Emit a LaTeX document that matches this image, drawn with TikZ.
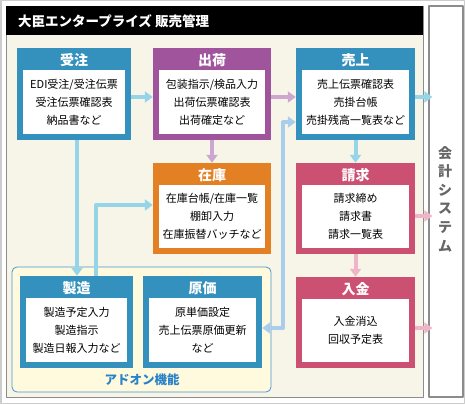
\documentclass[tikz,border=0pt]{standalone}
\usepackage{fontspec}
\setmainfont{Noto Sans CJK JP}
\usetikzlibrary{arrows.meta}
\definecolor{cblue}{RGB}{52,144,188}
\definecolor{cpurple}{RGB}{160,84,156}
\definecolor{corange}{RGB}{228,128,36}
\definecolor{cpink}{RGB}{204,80,114}
\definecolor{ablue}{RGB}{150,212,232}
\definecolor{ablue2}{RGB}{170,205,238}
\definecolor{apurple}{RGB}{206,166,210}
\definecolor{apink}{RGB}{240,180,200}
\definecolor{panel}{RGB}{247,245,232}
\definecolor{addonfill}{RGB}{255,249,222}
\definecolor{addonline}{RGB}{70,150,210}
\definecolor{addontext}{RGB}{40,130,200}
\begin{document}
\begin{tikzpicture}[x=1pt,y=-1pt,line join=round,
  mod/.style={inner sep=0,minimum height=92},
  ttl/.style={text=white,font=\fontsize{14}{14}\selectfont\bfseries,inner sep=0},
  body/.style={fill=white,inner sep=0,anchor=south,minimum height=64,align=center,
    font=\fontsize{11}{18}\selectfont},
  flow/.style={line width=4pt,-{Triangle[width=11pt,length=8pt]}}]
	\useasboundingbox (0,0) rectangle (465,404);
	%khung ngoai
	\draw[black!20,line width=1.5pt] (0.75,0.75) rectangle (464.25,403.25);
	\draw[black!45,fill=panel,line width=0.8pt] (6,6) rectangle (423,397);
	\fill[black] (6,6) rectangle (423,35);
	\node[anchor=west,text=white,font=\fontsize{13.5}{14}\selectfont\bfseries,inner sep=0] (title) at (18,21) {大臣エンタープライズ 販売管理};
	%会計システム
	\node[draw=black!45,fill=white,line width=1.2pt,minimum width=34,minimum height=391,inner sep=0] (kaikei) at (446,201.5) {};
	\node[text=black!60,font=\fontsize{14}{18.6}\selectfont\bfseries,align=center,inner sep=0] (kaikeit) at (445,199) {会\\計\\シ\\ス\\テ\\ム};
	%アドオン機能
	\node[draw=addonline,fill=addonfill,line width=0.8pt,rounded corners=5pt,minimum width=259,minimum height=125,inner sep=0] (addon) at (141.5,329.5) {};
	\node[text=addontext,font=\fontsize{12.5}{13}\selectfont\bfseries,inner sep=0] (addont) at (142,380) {アドオン機能};
	%受注
	\node[mod,fill=cblue,minimum width=114] (juchu) at (74,94) {};
	\node[ttl] at ([yshift=-12]juchu.north) {受注};
	\node[body,minimum width=102] (juchub) at ([yshift=6]juchu.south) {EDI受注/受注伝票\\受注伝票確認表\\納品書など};
	%出荷
	\node[mod,fill=cpurple,minimum width=118] (shukka) at (212,94) {};
	\node[ttl] at ([yshift=-12]shukka.north) {出荷};
	\node[body,minimum width=106] (shukkab) at ([yshift=6]shukka.south) {包装指示/検品入力\\出荷伝票確認表\\出荷確定など};
	%売上
	\node[mod,fill=cblue,minimum width=119] (uriage) at (355.5,94) {};
	\node[ttl] at ([yshift=-12]uriage.north) {売上};
	\node[body,minimum width=107] (uriageb) at ([yshift=6]uriage.south) {売上伝票確認表\\売掛台帳\\売掛残高一覧表など};
	%在庫
	\node[mod,fill=corange,minimum width=118,minimum height=91] (zaiko) at (212,208.5) {};
	\node[ttl] at ([yshift=-12]zaiko.north) {在庫};
	\node[body,minimum width=106,minimum height=63] (zaikob) at ([yshift=6]zaiko.south) {在庫台帳/在庫一覧\\棚卸入力\\在庫振替バッチなど};
	%請求
	\node[mod,fill=cpink,minimum width=119,minimum height=91] (seikyu) at (355.5,208.5) {};
	\node[ttl] at ([yshift=-12]seikyu.north) {請求};
	\node[body,minimum width=107,minimum height=63] (seikyub) at ([yshift=6]seikyu.south) {請求締め\\請求書\\請求一覧表};
	%入金
	\node[mod,fill=cpink,minimum width=119,minimum height=91] (nyukin) at (355.5,322.5) {};
	\node[ttl] at ([yshift=-12]nyukin.north) {入金};
	\node[body,minimum width=107,minimum height=63] (nyukinb) at ([yshift=6]nyukin.south) {入金消込\\回収予定表};
	%製造
	\node[mod,fill=cblue,minimum width=113] (seizo) at (76.5,322) {};
	\node[ttl] at ([yshift=-12]seizo.north) {製造};
	\node[body,minimum width=101] (seizob) at ([yshift=6]seizo.south) {製造予定入力\\製造指示\\製造日報入力など};
	%原価
	\node[mod,fill=cblue,minimum width=119] (genka) at (202.5,322) {};
	\node[ttl] at ([yshift=-12]genka.north) {原価};
	\node[body,minimum width=107] (genkab) at ([yshift=6]genka.south) {原単価設定\\売上伝票原価更新\\など};
	%mui ten
	\coordinate (via) at (283,0);
	\draw[flow,ablue] ([yshift=-3]juchu.east) -- ([yshift=-3]shukka.west);
	\draw[flow,apurple] ([yshift=-3]shukka.east) -- ([yshift=-3]uriage.west);
	\draw[flow,apurple] (shukka.south) -- (zaiko.north);
	\draw[flow,ablue] (uriage.south) -- (seikyu.north);
	\draw[flow,apink] (seikyu.south) -- (nyukin.north);
	\draw[flow,ablue,shorten >=-4pt] ([yshift=-3]uriage.east) -- ([yshift=-3]uriage.east -| kaikei.west);
	\draw[flow,apink,shorten >=-4pt] ([yshift=-7.5]seikyu.east) -- ([yshift=-7.5]seikyu.east -| kaikei.west);
	\draw[flow,apink,shorten >=-4pt] ([yshift=-5.5]nyukin.east) -- ([yshift=-5.5]nyukin.east -| kaikei.west);
	\draw[flow,ablue] ([xshift=3]juchu.south) -- ([xshift=3]juchu.south |- seizo.north);
	\draw[flow,ablue] ([xshift=19.5]seizo.north) |- ([yshift=3.5]zaiko.west);
	\draw[flow,ablue2,{Triangle[width=11pt,length=8pt]}-{Triangle[width=11pt,length=8pt]}] ([yshift=-6]genka.east) -- ([yshift=-6]genka.east -| via) -- ([yshift=-28]uriage.west -| via) -- ([yshift=-28]uriage.west);
\end{tikzpicture}
\end{document}
